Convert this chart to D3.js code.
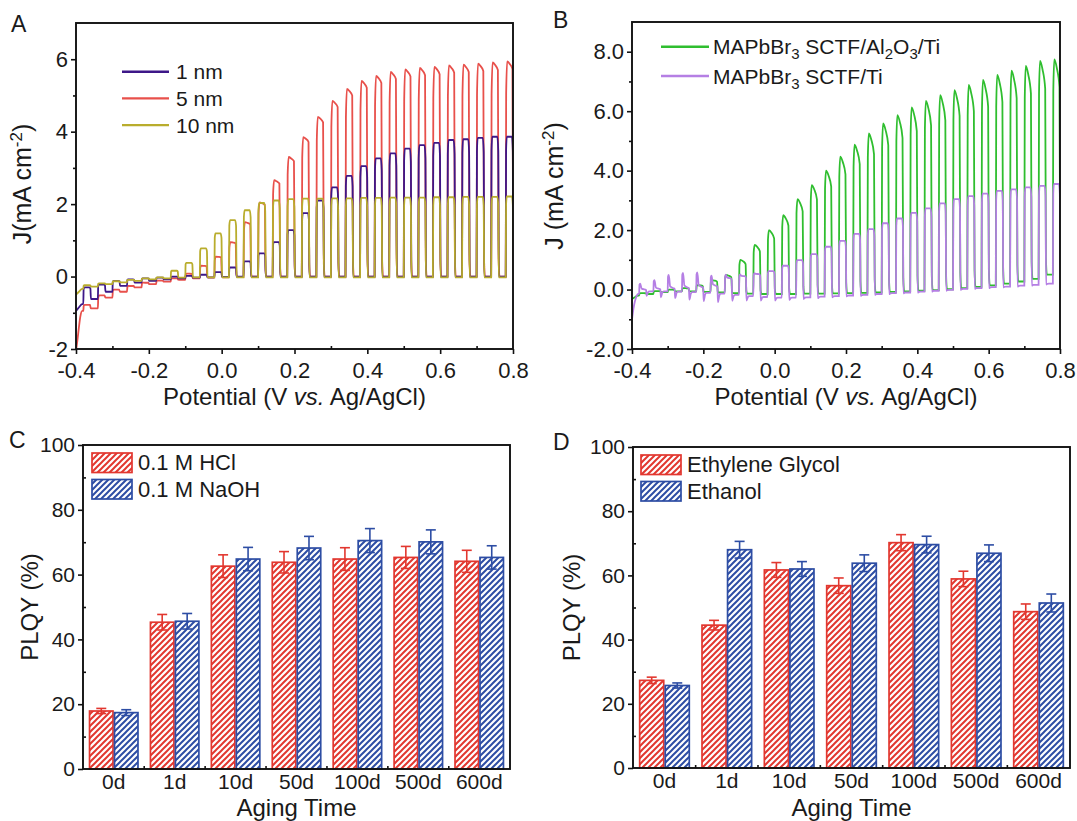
<!DOCTYPE html>
<html>
<head>
<meta charset="utf-8">
<script src="https://cdn.jsdelivr.net/npm/d3@7"></script>
<style>
  body { margin: 0; background: #fff; }
  svg text { font-family: "Liberation Sans", Arial, sans-serif; fill: #1a1a1a; white-space: pre; }
</style>
</head>
<body>
<svg id="fig" width="1077" height="821"></svg>
<script>
// ---- chopped-light LSV data (light on at each riseV for 0.02 V) ----
const riseV = [-0.38, -0.34, -0.30, -0.26, -0.22, -0.18, -0.14, -0.10, -0.06, -0.02,
  0.02, 0.06, 0.10, 0.14, 0.18, 0.22, 0.26, 0.30, 0.34, 0.38,
  0.42, 0.46, 0.50, 0.54, 0.58, 0.62, 0.66, 0.70, 0.74, 0.78];

// panel A
const nm1Lead = [[-0.40, -0.95], [-0.392, -0.85], [-0.383, -0.76]];
const nm1On = [-0.30, -0.22, -0.12, -0.08, -0.05, -0.03, 0.00, 0.02, 0.05, 0.12,
  0.25, 0.42, 0.64, 0.95, 1.28, 1.75, 2.10, 2.46, 2.78, 3.05,
  3.26, 3.40, 3.53, 3.63, 3.69, 3.77, 3.79, 3.83, 3.86, 3.86];
const nm1Off = [-0.62, -0.42, -0.26, -0.17, -0.12, -0.08, -0.05, -0.03, -0.02, -0.01,
  0, 0, 0, 0, 0, 0, 0, 0, 0, 0, 0, 0, 0, 0, 0, 0, 0, 0, 0, 0];

const nm5Lead = [[-0.40, -2.05], [-0.396, -1.75], [-0.392, -1.4], [-0.388, -1.1], [-0.383, -0.95]];
const nm5On = [-0.78, -0.52, -0.36, -0.26, -0.17, -0.11, -0.05, 0.08, 0.30, 0.55,
  0.95, 1.50, 2.05, 2.66, 3.30, 3.85, 4.41, 4.85, 5.18, 5.40,
  5.54, 5.65, 5.72, 5.76, 5.79, 5.83, 5.85, 5.88, 5.91, 5.94];
const nm5Off = [-0.88, -0.58, -0.42, -0.30, -0.21, -0.14, -0.09, -0.05, -0.03, -0.02,
  -0.01, 0, 0, 0, 0, 0, 0, 0, 0, 0, 0, 0, 0, 0, 0, 0, 0, 0, 0, 0];

const nm10Lead = [[-0.40, -0.50], [-0.392, -0.42], [-0.383, -0.34]];
const nm10On = [-0.24, -0.19, -0.13, -0.09, -0.05, -0.02, 0.16, 0.38, 0.78, 1.19,
  1.56, 1.83, 2.03, 2.10, 2.14, 2.15, 2.15, 2.16, 2.16, 2.17,
  2.17, 2.18, 2.18, 2.18, 2.19, 2.19, 2.20, 2.20, 2.20, 2.21];
const nm10Off = [-0.28, -0.21, -0.16, -0.12, -0.08, -0.05, -0.03, -0.02, -0.02, -0.02,
  -0.02, -0.02, -0.02, -0.02, -0.02, -0.02, -0.02, -0.02, -0.02, -0.02,
  -0.02, -0.02, -0.02, -0.02, -0.02, -0.02, -0.02, -0.02, -0.02, -0.02];

// panel B
const alLead = [[-0.40, -0.32], [-0.392, -0.26], [-0.383, -0.20]];
const alOn = [-0.12, -0.05, 0.00, 0.05, 0.15, 0.32, 0.49, 1.00, 1.50, 2.00,
  2.50, 3.04, 3.51, 4.00, 4.47, 4.87, 5.25, 5.59, 5.87, 6.13,
  6.35, 6.54, 6.71, 6.88, 7.05, 7.22, 7.36, 7.52, 7.69, 7.74];
const alOff = [-0.15, -0.09, -0.06, -0.06, -0.08, -0.10, -0.12, -0.14, -0.15, -0.15,
  -0.15, -0.14, -0.14, -0.13, -0.12, -0.11, -0.10, -0.08, -0.06, -0.04,
  -0.02, 0.01, 0.05, 0.09, 0.14, 0.20, 0.27, 0.36, 0.50, 0.66];

const tiLead = [[-0.40, -1.0], [-0.396, -0.65], [-0.392, -0.40], [-0.388, -0.25], [-0.383, -0.15]];
const tiOn = [0.00, 0.02, 0.04, 0.06, 0.08, 0.12, 0.38, 0.45, 0.52, 0.62,
  0.80, 0.99, 1.19, 1.44, 1.64, 1.87, 2.03, 2.23, 2.39, 2.58,
  2.73, 2.90, 3.04, 3.14, 3.23, 3.32, 3.37, 3.44, 3.49, 3.55];
const tiOff = [-0.06, -0.06, -0.07, -0.09, -0.11, -0.14, -0.18, -0.22, -0.25, -0.27,
  -0.27, -0.26, -0.24, -0.22, -0.20, -0.18, -0.15, -0.12, -0.10, -0.07,
  -0.04, -0.01, 0.02, 0.05, 0.08, 0.10, 0.13, 0.16, 0.20, 0.25];
const tiSpikeUp = [0.20, 0.30, 0.45, 0.50, 0.50, 0.35, 0.12, 0.06, 0.03, 0,
  0, 0, 0, 0, 0, 0, 0, 0, 0, 0, 0, 0, 0, 0, 0, 0, 0, 0, 0, 0];
const tiSpikeDown = [0.15, 0.20, 0.22, 0.25, 0.28, 0.28, 0.20, 0.15, 0.12, 0.10,
  0.08, 0.06, 0.05, 0.04, 0.03, 0.03, 0.03, 0.03, 0.03, 0.03,
  0.03, 0.03, 0.03, 0.03, 0.03, 0.03, 0.03, 0.03, 0.03, 0.03];

const potTicks = [-0.4, -0.2, 0.0, 0.2, 0.4, 0.6, 0.8];
const potMinor = [-0.3, -0.1, 0.1, 0.3, 0.5, 0.7];

// ---- PLQY bar data ----
const agingCats = ["0d", "1d", "10d", "50d", "100d", "500d", "600d"];
const hclVal = [17.9, 45.3, 62.6, 63.8, 64.8, 65.3, 64.1];
const hclErr = [0.8, 2.4, 3.5, 3.3, 3.5, 3.4, 3.4];
const naohVal = [17.4, 45.6, 64.8, 68.2, 70.5, 70.1, 65.3];
const naohErr = [0.9, 2.4, 3.6, 3.6, 3.7, 3.7, 3.6];
const egVal = [27.3, 44.5, 61.7, 56.8, 70.2, 58.9, 48.7];
const egErr = [1.0, 1.5, 2.3, 2.4, 2.5, 2.4, 2.4];
const ethVal = [25.7, 68.0, 62.0, 63.8, 69.6, 66.9, 51.4];
const ethErr = [0.8, 2.6, 2.3, 2.6, 2.6, 2.6, 2.8];
const plqyTicks = [0, 20, 40, 60, 80, 100];
const plqyMinor = [10, 30, 50, 70, 90];

const RED = "#e2372f", BLUE = "#2d4da4";

const svg = d3.select("#fig");
const defs = svg.append("defs");

const pA = { l: 76, r: 513, t: 23, b: 349 };
const pB = { l: 632, r: 1060, t: 22, b: 349 };
const pC = { l: 83, r: 510, t: 445, b: 769 };
const pD = { l: 633, r: 1070, t: 447, b: 768 };

function hatch(id, color) {
  const p = defs.append("pattern").attr("id", id)
    .attr("patternUnits", "userSpaceOnUse").attr("width", 6).attr("height", 6);
  p.append("rect").attr("width", 6).attr("height", 6).attr("fill", "#fff");
  p.append("path").attr("d", "M-1,1 L1,-1 M0,6 L6,0 M5,7 L7,5")
    .attr("stroke", color).attr("stroke-width", 2);
}
hatch("hRed", RED);
hatch("hBlue", BLUE);

// turns the per-pulse levels into a chopped trace
function chopPoints(lead, on, off, shape, up, down) {
  const pts = lead.map(d => [d[0], d[1]]);
  let prev = lead[lead.length - 1][1];
  riseV.forEach((s, k) => {
    const a = on[k], b = off[k];
    pts.push([s, prev]);
    if (shape.type === "decay") {
      pts.push([s + 0.0012, prev + 0.85 * (a - prev)], [s + 0.004, a],
        [s + 0.011, a - shape.d1 * (a - b)], [s + 0.0185, a - shape.d2 * (a - b)],
        [s + 0.0205, b + 0.08 * (a - b)], [s + 0.023, b]);
    } else {
      const u = up ? up[k] : 0, dn = down ? down[k] : 0;
      pts.push([s + 0.001, prev + 0.9 * (a + u - prev)], [s + 0.003, a + u],
        [s + 0.007, a + 0.15 * u], [s + 0.017, a], [s + 0.0195, a - 0.1 * (a - b)],
        [s + 0.021, b - dn], [s + 0.025, b - 0.2 * dn], [s + 0.029, b]);
    }
    pts.push([s + 0.039, b]);
    prev = b;
  });
  return pts;
}

function styleAxis(g, size) {
  g.select(".domain").remove();
  g.selectAll("line").attr("stroke", "#111").attr("stroke-width", 1.6);
  g.selectAll("text").attr("font-size", size).attr("fill", "#1a1a1a");
}

function frame(p) {
  svg.append("rect").attr("x", p.l).attr("y", p.t)
    .attr("width", p.r - p.l).attr("height", p.b - p.t)
    .attr("fill", "none").attr("stroke", "#111").attr("stroke-width", 1.9);
}

function letter(txt, x, y) {
  svg.append("text").attr("x", x).attr("y", y).attr("font-size", 23).text(txt);
}

function potentialTitle(cx) {
  const t = svg.append("text").attr("x", cx).attr("y", 405)
    .attr("text-anchor", "middle").attr("font-size", 24);
  t.append("tspan").text("Potential (V ");
  t.append("tspan").attr("font-style", "italic").text("vs.");
  t.append("tspan").text(" Ag/AgCl)");
}

function jTitle(x, cy, label) {
  const t = svg.append("text").attr("transform", `translate(${x},${cy}) rotate(-90)`)
    .attr("text-anchor", "middle").attr("font-size", 25);
  t.append("tspan").text(label);
  t.append("tspan").attr("dy", -9).attr("font-size", 17).text("-2");
  t.append("tspan").attr("dy", 9).text(")");
}

function lsvPanel(p, yDomain, yTicks, yMinor, yFmt, series, clipId) {
  const x = d3.scaleLinear().domain([-0.4, 0.8]).range([p.l, p.r]);
  const y = d3.scaleLinear().domain(yDomain).range([p.b, p.t]);

  defs.append("clipPath").attr("id", clipId).append("rect")
    .attr("x", p.l).attr("y", p.t).attr("width", p.r - p.l).attr("height", p.b - p.t);

  const line = d3.line().x(d => x(d[0])).y(d => y(d[1])).curve(d3.curveMonotoneX);
  const lay = svg.append("g").attr("clip-path", `url(#${clipId})`);
  series.forEach(s => {
    lay.append("path").datum(s.pts).attr("fill", "none")
      .attr("stroke", s.color).attr("stroke-width", 1.8).attr("d", line);
  });

  let g = svg.append("g").attr("transform", `translate(0,${p.b})`)
    .call(d3.axisBottom(x).tickValues(potTicks).tickSize(5).tickSizeOuter(0)
      .tickPadding(8).tickFormat(d => d.toFixed(1)));
  styleAxis(g, 22);
  g = svg.append("g").attr("transform", `translate(0,${p.b})`)
    .call(d3.axisBottom(x).tickValues(potMinor).tickSize(-3).tickSizeOuter(0).tickFormat(""));
  styleAxis(g, 22);
  g = svg.append("g").attr("transform", `translate(${p.l},0)`)
    .call(d3.axisLeft(y).tickValues(yTicks).tickSize(5).tickSizeOuter(0)
      .tickPadding(3).tickFormat(yFmt));
  styleAxis(g, 22);
  g = svg.append("g").attr("transform", `translate(${p.l},0)`)
    .call(d3.axisLeft(y).tickValues(yMinor).tickSize(3).tickSizeOuter(0).tickFormat(""));
  styleAxis(g, 22);
  frame(p);
  return { x, y };
}

// ---------- Panel A ----------
const serA = [
  { name: "5 nm", color: "#e8504b", pts: chopPoints(nm5Lead, nm5On, nm5Off, { type: "decay", d1: 0.012, d2: 0.035 }) },
  { name: "1 nm", color: "#3d1788", pts: chopPoints(nm1Lead, nm1On, nm1Off, { type: "square" }) },
  { name: "10 nm", color: "#b9ad2d", pts: chopPoints(nm10Lead, nm10On, nm10Off, { type: "square" }) }
];
lsvPanel(pA, [-2, 7], [-2, 0, 2, 4, 6], [-1, 1, 3, 5], d => String(d), serA, "clipA");
letter("A", 11, 32);
potentialTitle((pA.l + pA.r) / 2);
jTitle(31, 184, "J(mA cm");

const legA = [serA[1], serA[0], serA[2]];
legA.forEach((s, i) => {
  const yy = 71.7 + i * 26.7;
  svg.append("line").attr("x1", 122).attr("x2", 169).attr("y1", yy).attr("y2", yy)
    .attr("stroke", s.color).attr("stroke-width", 2.4);
  svg.append("text").attr("x", 176).attr("y", yy + 7.5).attr("font-size", 21).text(s.name);
});

// ---------- Panel B ----------
const serB = [
  { color: "#2fbe2f", pts: chopPoints(alLead, alOn, alOff, { type: "decay", d1: 0.04, d2: 0.13 }) },
  { color: "#b57fe4", pts: chopPoints(tiLead, tiOn, tiOff, { type: "square" }, tiSpikeUp, tiSpikeDown) }
];
lsvPanel(pB, [-2, 9], [-2, 0, 2, 4, 6, 8], [-1, 1, 3, 5, 7], d => d.toFixed(1), serB, "clipB");
letter("B", 553, 28);
potentialTitle((pB.l + pB.r) / 2);
jTitle(563, 186, "J (mA cm");

[0, 1].forEach(i => {
  const yy = 46.7 + i * 29.3;
  svg.append("line").attr("x1", 661).attr("x2", 709).attr("y1", yy).attr("y2", yy)
    .attr("stroke", serB[i].color).attr("stroke-width", 2.4);
  const t = svg.append("text").attr("x", 713).attr("y", yy + 7.5).attr("font-size", 21);
  t.append("tspan").text("MAPbBr");
  t.append("tspan").attr("dy", 5).attr("font-size", 15).text("3");
  if (i === 0) {
    t.append("tspan").attr("dy", -5).text(" SCTF/Al");
    t.append("tspan").attr("dy", 5).attr("font-size", 15).text("2");
    t.append("tspan").attr("dy", -5).text("O");
    t.append("tspan").attr("dy", 5).attr("font-size", 15).text("3");
    t.append("tspan").attr("dy", -5).text("/Ti");
  } else {
    t.append("tspan").attr("dy", -5).text(" SCTF/Ti");
  }
});

// ---------- bar panels ----------
function barPanel(p, valsA, errA, valsB, errB, names, legX) {
  const x0 = d3.scaleBand().domain(agingCats).range([p.l, p.r])
    .paddingInner(0.18).paddingOuter(0.095);
  const x1 = d3.scaleBand().domain([0, 1]).range([0, x0.bandwidth()]);
  const y = d3.scaleLinear().domain([0, 100]).range([p.b, p.t]);
  const groups = [
    { vals: valsA, errs: errA, fill: "url(#hRed)", color: RED },
    { vals: valsB, errs: errB, fill: "url(#hBlue)", color: BLUE }
  ];

  groups.forEach((grp, gi) => {
    const g = svg.append("g");
    g.selectAll("rect").data(agingCats).join("rect")
      .attr("x", c => x0(c) + x1(gi) + 0.75)
      .attr("y", (c, i) => y(grp.vals[i]))
      .attr("width", x1.bandwidth() - 1.5)
      .attr("height", (c, i) => y(0) - y(grp.vals[i]))
      .attr("fill", grp.fill).attr("stroke", grp.color).attr("stroke-width", 1.7);
  });
  groups.forEach((grp, gi) => {
    const g = svg.append("g").attr("stroke", grp.color).attr("stroke-width", 1.6);
    agingCats.forEach((c, i) => {
      const cx = x0(c) + x1(gi) + x1.bandwidth() / 2;
      const lo = y(grp.vals[i] - grp.errs[i]), hi = y(grp.vals[i] + grp.errs[i]);
      g.append("line").attr("x1", cx).attr("x2", cx).attr("y1", lo).attr("y2", hi);
      g.append("line").attr("x1", cx - 5).attr("x2", cx + 5).attr("y1", hi).attr("y2", hi);
      g.append("line").attr("x1", cx - 5).attr("x2", cx + 5).attr("y1", lo).attr("y2", lo);
    });
  });

  let g = svg.append("g").attr("transform", `translate(0,${p.b})`)
    .call(d3.axisBottom(x0).tickSize(0).tickPadding(5));
  styleAxis(g, 21);
  const bounds = agingCats.slice(1).map((c, i) =>
    (x0(agingCats[i]) + x0.bandwidth() + x0(c)) / 2);
  svg.append("g").selectAll("line").data(bounds).join("line")
    .attr("x1", d => d).attr("x2", d => d).attr("y1", p.b).attr("y2", p.b - 3)
    .attr("stroke", "#111").attr("stroke-width", 1.6);
  g = svg.append("g").attr("transform", `translate(${p.l},0)`)
    .call(d3.axisLeft(y).tickValues(plqyTicks).tickSize(5).tickSizeOuter(0).tickPadding(3));
  styleAxis(g, 21);
  g = svg.append("g").attr("transform", `translate(${p.l},0)`)
    .call(d3.axisLeft(y).tickValues(plqyMinor).tickSize(-3).tickSizeOuter(0).tickFormat(""));
  styleAxis(g, 21);
  frame(p);

  // legend
  groups.forEach((grp, gi) => {
    const ty = p.t + 8 + gi * 26.5;
    svg.append("rect").attr("x", legX).attr("y", ty).attr("width", 40).attr("height", 19.5)
      .attr("fill", grp.fill).attr("stroke", grp.color).attr("stroke-width", 1.7);
    svg.append("text").attr("x", legX + 46).attr("y", ty + 17).attr("font-size", 22).text(names[gi]);
  });

  svg.append("text").attr("x", (p.l + p.r) / 2).attr("y", 816)
    .attr("text-anchor", "middle").attr("font-size", 24).text("Aging Time");
}

barPanel(pC, hclVal, hclErr, naohVal, naohErr, ["0.1 M HCl", "0.1 M NaOH"], 92);
letter("C", 9, 448);
svg.append("text").attr("transform", `translate(38,${(pC.t + pC.b) / 2}) rotate(-90)`)
  .attr("text-anchor", "middle").attr("font-size", 24).text("PLQY (%)");

barPanel(pD, egVal, egErr, ethVal, ethErr, ["Ethylene Glycol", "Ethanol"], 641);
letter("D", 553, 450);
svg.append("text").attr("transform", `translate(580,${(pD.t + pD.b) / 2}) rotate(-90)`)
  .attr("text-anchor", "middle").attr("font-size", 24).text("PLQY (%)");
</script>
</body>
</html>
